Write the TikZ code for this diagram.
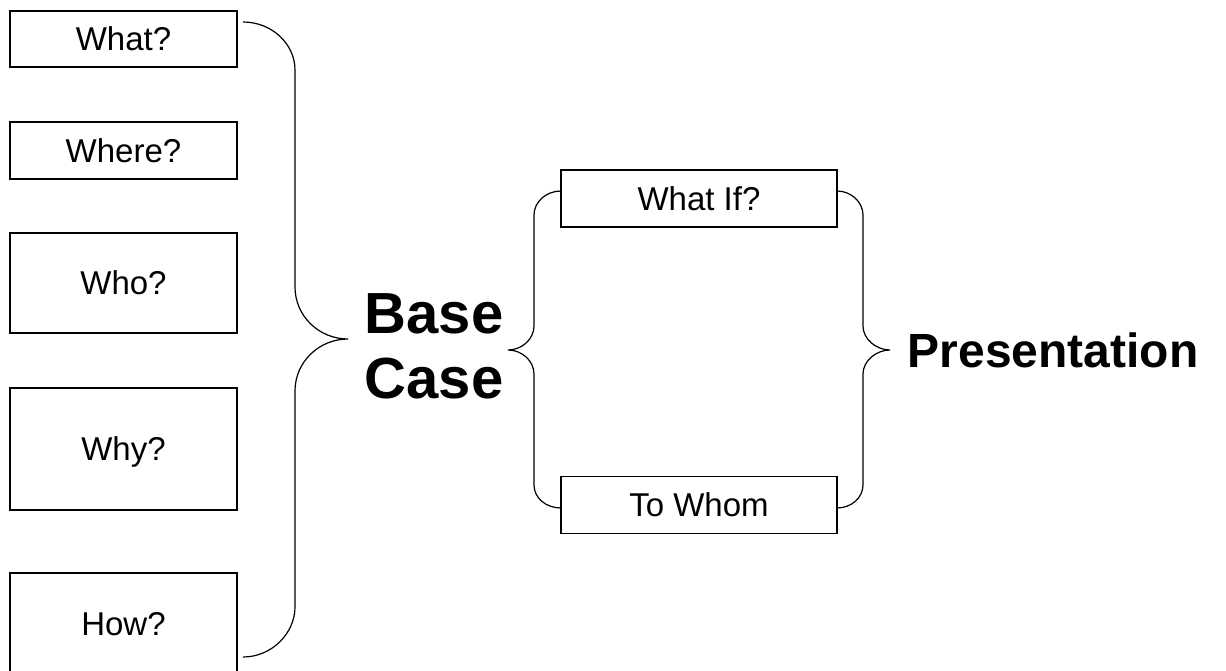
\documentclass[tikz,border=0pt]{standalone}
\usepackage{fontspec}
\setmainfont{Liberation Sans}
\begin{document}
\begin{tikzpicture}[x=1pt,y=-1pt,
  qbox/.style={draw, line width=1.3pt, inner sep=0pt,
    font=\fontsize{33}{36}\selectfont, text height=23.6pt, text depth=0pt},
  leftq/.style={qbox, minimum width=227pt},
  midq/.style={qbox, minimum width=276pt, minimum height=57pt},
  brace/.style={draw, line width=1.2pt},
  big/.style={font=\bfseries\fontsize{58}{65}\selectfont, align=center, inner sep=0pt},
  result/.style={font=\bfseries\fontsize{48}{52}\selectfont, inner sep=0pt,
    text height=34.4pt, text depth=0pt}]
\useasboundingbox (0,0) rectangle (1226,671);
\clip (0,0) rectangle (1226,671);

% questions on the left
\node[leftq, minimum height=56pt]  (what)  at (123.5,39)  {What?};
\node[leftq, minimum height=57pt]  (where) at (123.5,150.5) {Where?};
\node[leftq, minimum height=100pt] (who)   at (123.5,283)  {Who?};
\node[leftq, minimum height=122pt] (why)   at (123.5,449)  {Why?};
\node[leftq, minimum height=102pt] (how)   at (123.5,624)  {How?};

% base case and its two follow-ups
\node[big] (base) at (434,346) {Base\\Case};
\node[midq] (whatif) at (699,198.5) {What If?};
\node[midq] (towhom) at (699,505)   {To Whom};
\node[result] (pres) at (1053,350) {Presentation};

% brace gathering the questions into the base case
\coordinate (b1top) at (243,22);
\coordinate (b1tip) at (348,339);
\coordinate (b1bot) at (243,657);
\draw[brace] (b1top) .. controls (272,22) and (295,44) .. (295,70)
  -- (295,287) .. controls (295,316) and (319,339) .. (b1tip)
  .. controls (319,339) and (295,362) .. (295,391)
  -- (295,607) .. controls (295,633) and (272,657) .. (b1bot);

% brace opening from the base case
\coordinate (b2top) at (561,191);
\coordinate (b2tip) at (508,350);
\coordinate (b2bot) at (561,508);
\draw[brace] (b2top) .. controls (546,191) and (534,202) .. (534,215)
  -- (534,326) .. controls (534,339) and (522,350) .. (b2tip)
  .. controls (522,350) and (534,361) .. (534,374)
  -- (534,485) .. controls (534,498) and (546,508) .. (b2bot);

% brace closing into the presentation
\coordinate (b3top) at (837,191);
\coordinate (b3tip) at (890,350);
\coordinate (b3bot) at (837,508);
\draw[brace] (b3top) .. controls (851,191) and (863,202) .. (863,215)
  -- (863,326) .. controls (863,339) and (876,350) .. (b3tip)
  .. controls (876,350) and (863,361) .. (863,374)
  -- (863,485) .. controls (863,498) and (851,508) .. (b3bot);
\end{tikzpicture}
\end{document}
